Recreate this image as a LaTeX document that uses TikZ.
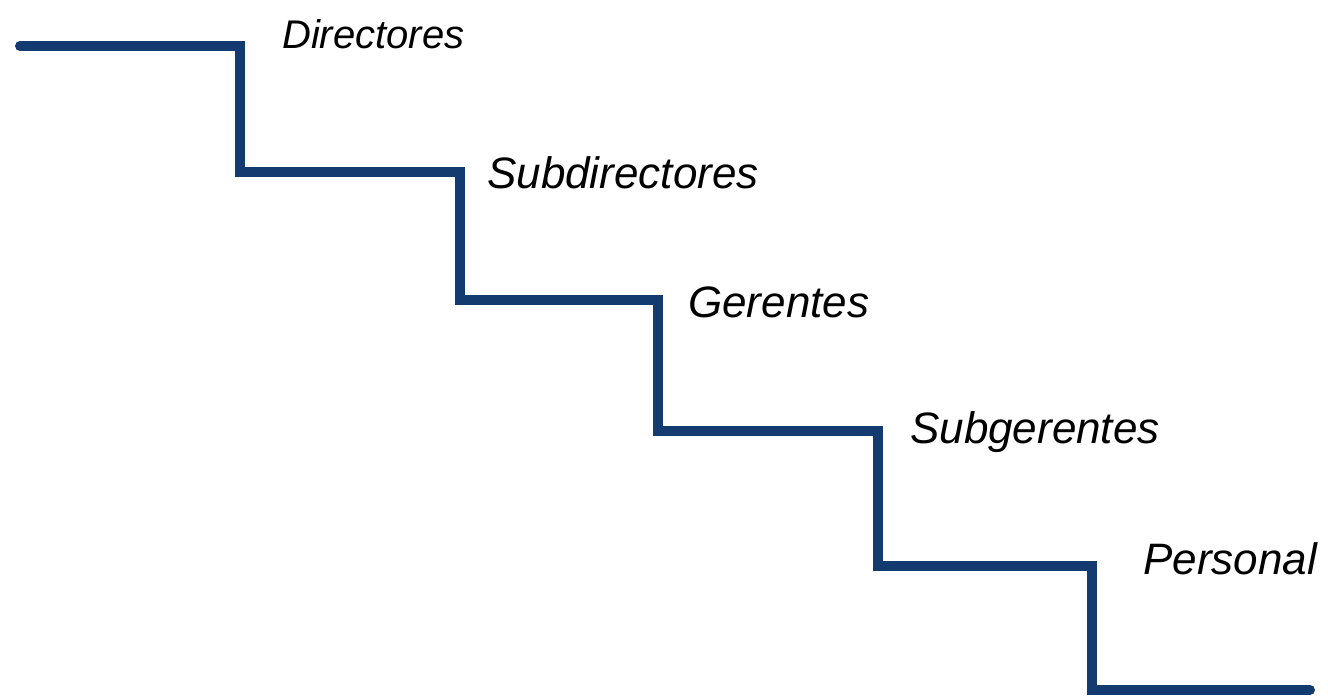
\documentclass[tikz,border=0pt]{standalone}
\usepackage{fontspec}
\setmainfont{Liberation Sans}
\definecolor{stair}{HTML}{143B6F}
\begin{document}
\begin{tikzpicture}[x=1pt,y=-1pt,
  stairline/.style={draw=stair,line width=10pt,line cap=round,line join=miter},
  lbl/.style={inner sep=0pt,anchor=base west,font=\itshape\fontsize{44}{50}\selectfont}]
\useasboundingbox (0,0) rectangle (1328,697);
\coordinate (s0) at (20,46);
\coordinate (c1) at (240,46);
\coordinate (c2) at (240,172);
\coordinate (c3) at (460,172);
\coordinate (c4) at (460,300);
\coordinate (c5) at (658,300);
\coordinate (c6) at (658,431);
\coordinate (c7) at (878,431);
\coordinate (c8) at (878,566);
\coordinate (c9) at (1092,566);
\coordinate (c10) at (1092,690);
\coordinate (e) at (1310,690);
\draw[stairline] (s0) -- (c1) -- (c2) -- (c3) -- (c4) -- (c5) -- (c6) -- (c7) -- (c8) -- (c9) -- (c10) -- (e);
\node[lbl,font=\itshape\fontsize{40}{46}\selectfont] (dir) at (282,48) {Directores};
\node[lbl] (sub) at (487,188) {Subdirectores};
\node[lbl] (ger) at (688,317) {Gerentes};
\node[lbl] (sger) at (910,443) {Subgerentes};
\node[lbl] (per) at (1143,574) {Personal};
\end{tikzpicture}
\end{document}
